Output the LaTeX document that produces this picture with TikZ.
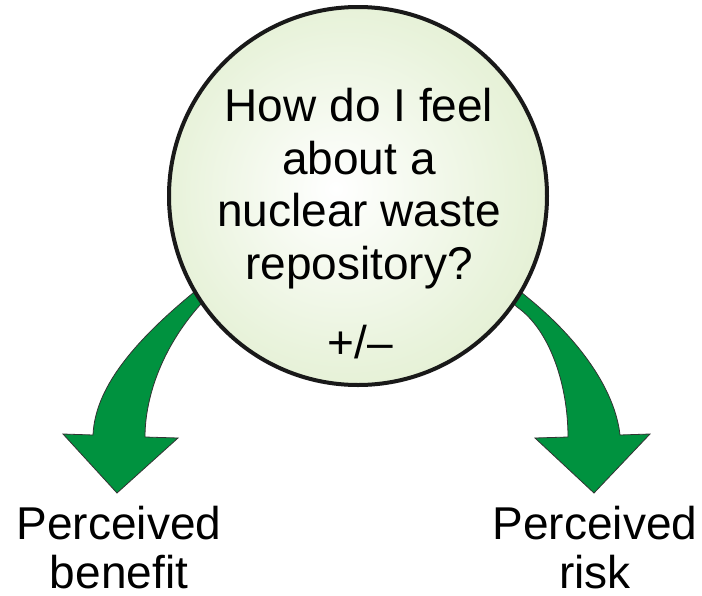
\documentclass[tikz,border=0pt]{standalone}
\usepackage{fontspec}
\setmainfont{Liberation Sans}
\definecolor{bubbleedge}{RGB}{213,231,186}
\definecolor{bubblemid}{RGB}{233,243,220}
\definecolor{arrowgreen}{RGB}{0,146,63}
\pgfdeclareradialshading{bubble}{\pgfpoint{-3bp}{1bp}}{color(0bp)=(white); color(22bp)=(bubblemid); color(47bp)=(bubbleedge); color(50bp)=(bubbleedge)}

\begin{document}
\begin{tikzpicture}[x=1pt,y=-1pt,
  bigtext/.style={font=\fontsize{46}{52.5}\selectfont, align=center, inner sep=0pt},
  labeltext/.style={font=\fontsize{46}{49}\selectfont, align=center, inner sep=0pt},
  bentarrow/.style={fill=arrowgreen, draw=black!80, line width=0.8pt, line join=miter}]
\useasboundingbox (0,0) rectangle (702,595);

% curved arrow towards the benefit label
\draw[bentarrow] (205,283) -- (193,293)
  .. controls (130,345) and (95,390) .. (93,435)
  -- (63,434) -- (117,493) -- (178,438) -- (145,437)
  .. controls (145,400) and (160,350) .. (200,305)
  -- (210,294) -- cycle;

% curved arrow towards the risk label
\draw[bentarrow] (515,287) -- (527,297)
  .. controls (580,340) and (615,390) .. (620,435)
  -- (650,434) -- (594,493) -- (535,438) -- (568,437)
  .. controls (568,385) and (550,330) .. (517,307)
  -- (506,296) -- cycle;

% the question bubble
\node (ring) [circle, minimum size=378pt, inner sep=0pt, shade, shading=bubble,
  draw=black!90, line width=4pt] at (358,196) {};

% multi-line nodes: the base anchor sits on the last line
\node (question) [bigtext, anchor=base] at (359,279)
  {How do I feel\\about a\\nuclear waste\\repository?};
\node (pm) [bigtext, anchor=base] at (360,358) {+/–};

\node (benefit) [labeltext, anchor=base] at (119,588) {Perceived\\benefit};
\node (risk) [labeltext, anchor=base] at (595,588) {Perceived\\risk};
\end{tikzpicture}
\end{document}
